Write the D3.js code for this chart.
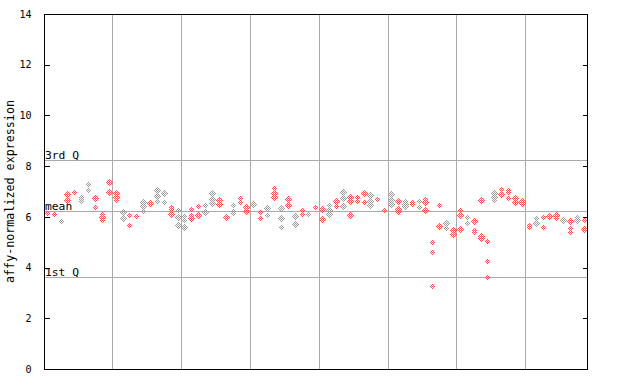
<!DOCTYPE html>
<html>
<head>
<meta charset="utf-8">
<script src="https://cdn.jsdelivr.net/npm/d3@7"></script>
<style>
html,body{margin:0;padding:0;background:#fff;}
svg{display:block;}
</style>
</head>
<body>
<svg id="chart" width="640" height="384"></svg>
<script>
// ---- data ----
const yTicks = [0, 2, 4, 6, 8, 10, 12, 14];
const refLines = [
  {label: "3rd Q", value: 8.23},
  {label: "mean", value: 6.22},
  {label: "1st Q", value: 3.62}
];
const groupSeparators = [9.5, 19.5, 29.5, 39.5, 49.5, 59.5, 69.5];
const sampleValues = [
  [6.16],[6.11],[5.84],[6.90,6.65],[6.97],[6.80,6.72,6.63],[7.28,7.05],[6.73,6.38],[6.11,6.01,5.88],[7.37,6.97],
  [6.93,6.80,6.68],[6.18,5.94],[6.06,5.69],[6.03],[6.60,6.43,6.23],[6.53],[7.05,6.82,6.61],[6.93,6.59],[6.39,6.31,6.11],[6.27,5.98,5.68],
  [6.03,5.88,5.59],[6.30,6.06,5.94],[6.44,6.06],[6.46,6.19],[6.93,6.69,6.53],[6.66,6.51],[6.01],[6.47,6.23,6.16],[6.76,6.59],[6.40,6.23],
  [6.51],[6.20,5.97],[6.34,6.07],[7.13,6.93,6.77],[6.34,5.94,5.59],[6.70,6.47],[6.03,5.71],[6.28,6.11],[6.11],[6.40],
  [6.30,5.92],[6.47,6.27,6.10],[6.64,6.42],[6.97,6.73,6.43],[6.80,6.64,6.06],[6.77,6.61],[6.93,6.59],[6.85,6.64,6.46],[6.69],[6.27],
  [6.90,6.66,6.50],[6.61,6.32,6.24],[6.61,6.51,6.42],[6.60,6.52],[6.61,6.40],[6.69,6.57,6.26],[5.01,4.60,3.27],[6.47,5.63],[5.75,5.57],[5.48,5.34],
  [6.27,6.06,5.51],[5.98,5.77],[5.82,5.48,5.40],[6.65,5.25,5.17],[5.04,4.25,3.62],[6.93,6.77,6.66],[7.09,6.90],[7.06,6.97,6.73],[6.74,6.60],[6.64,6.53],
  [5.68,5.59],[5.94,5.77],[6.01,5.59],[6.03],[6.07,5.94],[5.88],[5.82,5.55,5.40],[5.98,5.88],[5.88,5.53]
];
const sampleColor = [
  "r","r","g","r","r","g","g","r","r","r",
  "r","g","r","r","g","r","g","g","r","g",
  "g","r","r","g","g","r","r","g","r","r",
  "g","r","g","r","g","r","g","r","g","r",
  "r","g","r","g","r","r","r","g","r","r",
  "g","r","g","r","g","r","r","r","g","r",
  "r","g","r","r","r","g","r","r","r","r",
  "r","g","r","r","r","g","r","g","r"
];

// ---- layout ----
const svg = d3.select("#chart");
const L = 44, R = 588, T = 14, B = 369;
const n = sampleValues.length;
const x = d3.scaleLinear().domain([-0.4, n - 0.4]).range([L, R]);
const y = d3.scaleLinear().domain([0, 14]).range([B, T]);
const font = "'DejaVu Sans Mono', 'Liberation Mono', monospace";
const gridCol = "#aaaaaa";
const colors = {r: "#ff4d4d", g: "#999999"};

// checker patterns
const defs = svg.append("defs");
Object.entries(colors).forEach(([k, c]) => {
  const p = defs.append("pattern").attr("id", "chk" + k)
    .attr("patternUnits", "userSpaceOnUse").attr("width", 2).attr("height", 2);
  p.append("rect").attr("x", 0).attr("y", 0).attr("width", 1).attr("height", 1).attr("fill", c);
  p.append("rect").attr("x", 1).attr("y", 1).attr("width", 1).attr("height", 1).attr("fill", c);
});

// vertical separators
svg.append("g").selectAll("line").data(groupSeparators).join("line")
  .attr("x1", d => Math.round(x(d)) + 0.5).attr("x2", d => Math.round(x(d)) + 0.5)
  .attr("y1", T).attr("y2", B)
  .attr("stroke", gridCol).attr("stroke-width", 1).attr("shape-rendering", "crispEdges");

// reference lines
const rl = svg.append("g");
rl.selectAll("line").data(refLines).join("line")
  .attr("x1", L).attr("x2", R)
  .attr("y1", d => Math.round(y(d.value)) + 0.5).attr("y2", d => Math.round(y(d.value)) + 0.5)
  .attr("stroke", gridCol).attr("stroke-width", 1).attr("shape-rendering", "crispEdges");
rl.selectAll("text").data(refLines).join("text")
  .attr("x", L + 1).attr("y", d => Math.round(y(d.value)) - 1.5)
  .attr("font-family", font).attr("font-size", 11.3).attr("fill", "#000")
  .text(d => d.label);

// points
const pts = [];
sampleValues.forEach((vals, i) => vals.forEach(v => pts.push({i, v, c: sampleColor[i]})));
const diamond = (cx, cy) => `M${cx},${cy - 3.5}L${cx + 3.5},${cy}L${cx},${cy + 3.5}L${cx - 3.5},${cy}Z`;
svg.append("g").selectAll("path").data(pts).join("path")
  .attr("d", d => diamond(Math.round(x(d.i)) + 0.5, Math.round(y(d.v)) + 0.5))
  .attr("fill", d => `url(#chk${d.c})`)
  .attr("shape-rendering", "crispEdges");

// axes frame
const axL = d3.axisLeft(y).tickValues(yTicks).tickSize(-5).tickPadding(13).tickFormat(d3.format("d"));
const gL = svg.append("g").attr("transform", `translate(${L + 0.5},0)`).call(axL);
gL.selectAll("text").attr("font-family", font).attr("font-size", 10).attr("fill", "#000");
gL.selectAll("line").attr("stroke", "#000").attr("shape-rendering", "crispEdges");
gL.select(".domain").remove();

const axR = d3.axisRight(y).tickValues(yTicks).tickSize(-5).tickFormat("");
const gR = svg.append("g").attr("transform", `translate(${R - 0.5},0)`).call(axR);
gR.selectAll("line").attr("stroke", "#000").attr("shape-rendering", "crispEdges");
gR.select(".domain").remove();

svg.append("rect").attr("x", L + 0.5).attr("y", T + 0.5).attr("width", R - L - 1).attr("height", B - T)
  .attr("fill", "none").attr("stroke", "#000").attr("stroke-width", 1).attr("shape-rendering", "crispEdges");

// y label
svg.append("text")
  .attr("transform", `translate(14,${(T + B) / 2}) rotate(-90)`)
  .attr("text-anchor", "middle")
  .attr("font-family", font).attr("font-size", 11.7).attr("fill", "#000")
  .text("affy-normalized expression");
</script>
</body>
</html>
